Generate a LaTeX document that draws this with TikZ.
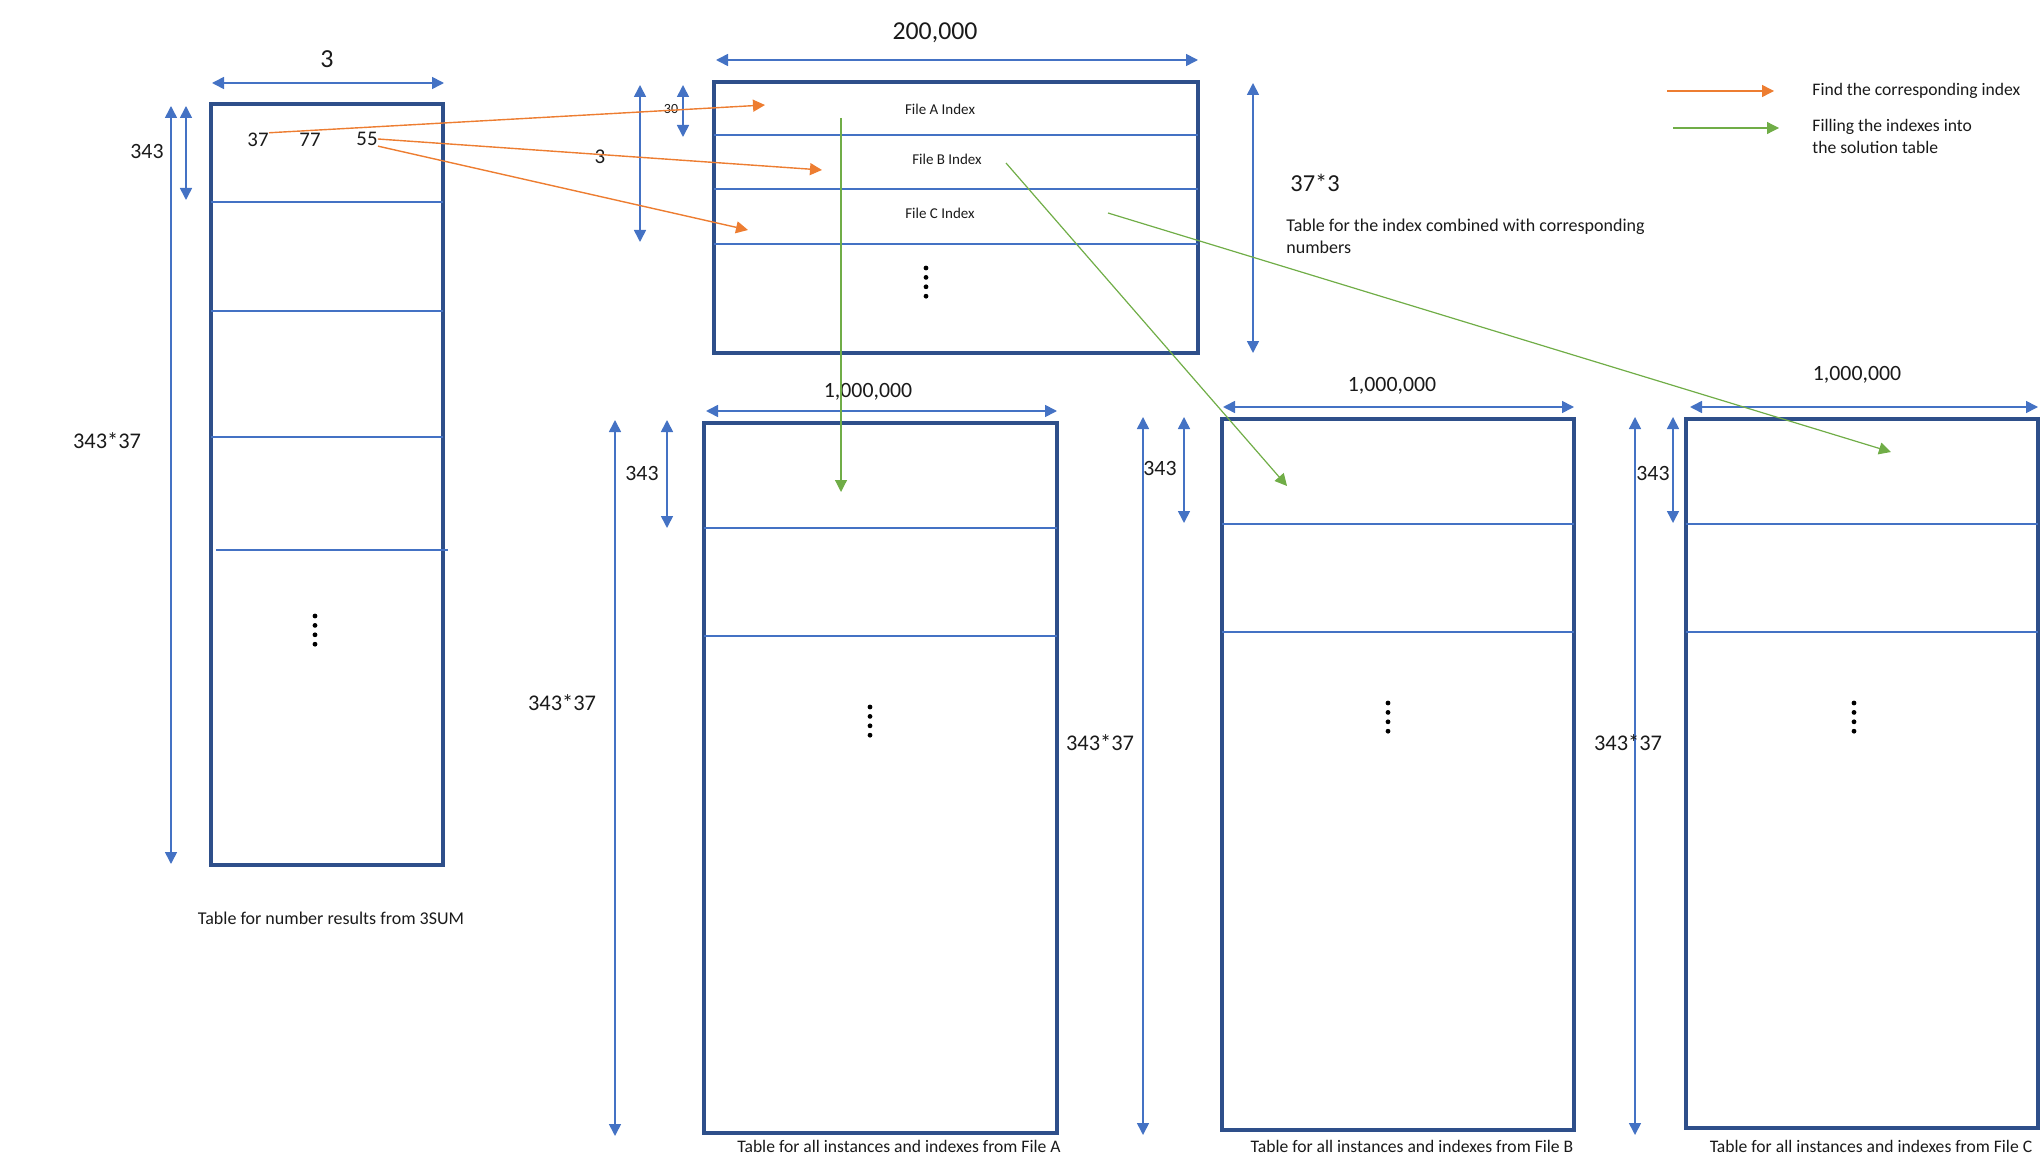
\documentclass[tikz,border=0pt]{standalone}
\usepackage{fontspec}
\setmainfont{Carlito}
\usetikzlibrary{arrows.meta,calc}
\definecolor{Frame}{HTML}{2E4F8A}
\definecolor{Steel}{HTML}{4472C4}
\definecolor{Orange}{HTML}{ED7D31}
\definecolor{Green}{HTML}{70AD47}
\definecolor{Ink}{HTML}{1A1A1A}

\begin{document}
\begin{tikzpicture}[x=0.5pt,y=-0.5pt,
    tblbox/.style={draw=Frame,line width=1.6pt},
    rowline/.style={draw=Steel,line width=0.7pt},
    dimarrow/.style={draw=Steel,line width=0.8pt,{Triangle[length=6pt,width=6pt]}-{Triangle[length=6pt,width=6pt]}},
    findarrow/.style={draw=Orange,line width=0.7pt,-{Triangle[length=6pt,width=6pt]}},
    fillarrow/.style={draw=Green,line width=0.6pt,-{Triangle[length=6pt,width=6pt]}},
    lbl/.style={inner sep=0pt,text=Ink,font=\fontsize{#1}{#1}\selectfont},
    note/.style={inner sep=0pt,text=Ink,align=left,font=\fontsize{#1}{11}\selectfont}]
        \useasboundingbox (0,0) rectangle (2040,1155);

        % tables
        \draw[tblbox] (211,104) rectangle (443,865);
        \foreach \ry in {202,311,437} \draw[rowline] (211,\ry) -- (443,\ry);
        \draw[rowline] (216,550) -- (448,550);
        \draw[tblbox] (714,82) rectangle (1198,353);
        \foreach \ry in {135,189,244} \draw[rowline] (714,\ry) -- (1198,\ry);
        \draw[tblbox] (704,423) rectangle (1057,1133);
        \foreach \ry in {528,636} \draw[rowline] (704,\ry) -- (1057,\ry);
        \draw[tblbox] (1222,419) rectangle (1574,1130);
        \draw[tblbox] (1686,419) rectangle (2038,1128);
        \foreach \ry in {524,632} {
          \draw[rowline] (1222,\ry) -- (1574,\ry);
          \draw[rowline] (1686,\ry) -- (2038,\ry);
        }

        % vertical dots
        \foreach \dx/\dy in {315/616,926/268,870/707,1388/703,1854/703}
          \foreach \k in {0,...,3} \fill[black] (\dx,\dy+9.4*\k) circle (1.2pt);

        % sizes
        \draw[dimarrow] (212,83) -- (444,83);
        \draw[dimarrow] (171,106) -- (171,864);
        \draw[dimarrow] (186,106) -- (186,200);
        \node[lbl=13] (wSum) at (327,59) {3};
        \node[lbl=10.9] (hSumRow) at (147,152) {343};
        \node[lbl=11.2] (hSum) at (107,441) {343*37};

        \draw[dimarrow] (716,60) -- (1198,60);
        \draw[dimarrow] (640,85) -- (640,242);
        \draw[dimarrow] (683,85) -- (683,137);
        \draw[dimarrow] (1253,83) -- (1253,353);
        \node[lbl=12.9] (wIdx) at (935,33) {200,000};
        \node[lbl=7] (hIdxRow) at (671,109) {30};
        \node[lbl=10.5] (nIdx) at (600,157) {3};
        \node[lbl=12.2] (hIdx) at (1315,183) {37*3};

        \draw[dimarrow] (706,411) -- (1057,411);
        \draw[dimarrow] (615,420) -- (615,1136);
        \draw[dimarrow] (667,420) -- (667,528);
        \node[lbl=10.9] (wA) at (868,392) {1,000,000};
        \node[lbl=10.9] (hArow) at (642,473) {343};
        \node[lbl=11.2] (hA) at (562,703) {343*37};

        \draw[dimarrow] (1223,407) -- (1574,407);
        \draw[dimarrow] (1143,417) -- (1143,1135);
        \draw[dimarrow] (1184,417) -- (1184,523);
        \node[lbl=10.9] (wB) at (1392,386) {1,000,000};
        \node[lbl=10.9] (hBrow) at (1160,468) {343};
        \node[lbl=11.2] (hB) at (1100,743) {343*37};

        \draw[dimarrow] (1690,407) -- (2038,407);
        \draw[dimarrow] (1635,417) -- (1635,1135);
        \draw[dimarrow] (1673,417) -- (1673,523);
        \node[lbl=10.9] (wC) at (1857,375) {1,000,000};
        \node[lbl=10.9] (hCrow) at (1653,473) {343};
        \node[lbl=11.2] (hC) at (1628,743) {343*37};

        % cell texts
        \node[lbl=10.4] (num37) at (258,140) {37};
        \node[lbl=10.4] (num77) at (310,140) {77};
        \node[lbl=10.4] (num55) at (367,139) {55};
        \node[lbl=7.5] (fileA) at (940,109) {File A Index};
        \node[lbl=7.5] (fileB) at (947,159) {File B Index};
        \node[lbl=7.5] (fileC) at (940,213) {File C Index};

        % captions
        \node[lbl=9] (capSum) at (331,918) {Table for number results from 3SUM};
        \node[note=9,anchor=north west] (capIdx) at (1286,219) {Table for the index combined with corresponding\\numbers};
        \node[lbl=8.8] (capA) at (899,1146) {Table for all instances and indexes from File A};
        \node[lbl=8.8] (capB) at (1412,1146) {Table for all instances and indexes from File B};
        \node[lbl=8.8] (capC) at (1871,1146) {Table for all instances and indexes from File C};

        % lookups
        \coordinate (idxA) at (765,105);
        \coordinate (idxB) at (822,170);
        \coordinate (idxC) at (748,230);
        \draw[findarrow] (num37.north east) -- (idxA);
        \draw[findarrow] (num55.east) -- (idxB);
        \draw[findarrow] (num55.south east) -- (idxC);

        % filling
        \coordinate (fromA) at (841,118);
        \coordinate (fromB) at (1006,163);
        \coordinate (fromC) at (1108,213);
        \coordinate (intoA) at (841,492);
        \coordinate (intoB) at (1287,486);
        \coordinate (intoC) at (1891,452);
        \draw[fillarrow] (fromA) -- (intoA);
        \draw[fillarrow] (fromB) -- (intoB);
        \draw[fillarrow] (fromC) -- (intoC);

        % key
        \node[note=8.8,anchor=west] (keyFind) at (1812,91) {Find the corresponding index};
        \node[note=8.8,anchor=north west] (keyFill) at (1812,119) {Filling the indexes into\\the solution table};
        \coordinate (keyFindStart) at (1667,91);
        \coordinate (keyFillStart) at (1673,128);
        \draw[findarrow] (keyFindStart) -- ($(keyFind.west)+(-38,0)$);
        \draw[fillarrow] (keyFillStart) -- (1779,128);
      \end{tikzpicture}
\end{document}
